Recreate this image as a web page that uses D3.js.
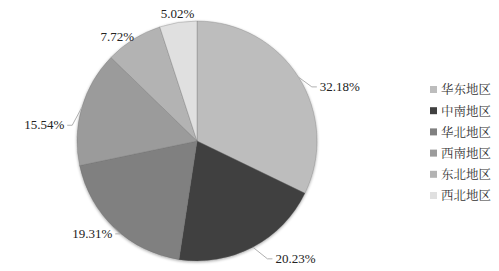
<!DOCTYPE html>
<html>
<head>
<meta charset="utf-8">
<script src="https://cdn.jsdelivr.net/npm/d3@7"></script>
<style>
  body { margin: 0; background: #fff; }
  svg { display: block; }
</style>
</head>
<body>
<svg width="499" height="271"></svg>
<script>
// 地区及占比
const regions = ["华东地区", "中南地区", "华北地区", "西南地区", "东北地区", "西北地区"];
const shares = [32.18, 20.23, 19.31, 15.54, 7.72, 5.02];
const colors = ["#bdbdbd", "#404040", "#808080", "#9b9b9b", "#b3b3b3", "#e0e0e0"];
// 标签微调 (dx, dy)
const labelNudge = [[4, 16], [10, 1], [13, -3], [1, 21], [14, 8], [25, 3]];

const width = 499, height = 271;
const cx = 197, cy = 141, r = 120;

const svg = d3.select("svg");

const defs = svg.append("defs");
const f = defs.append("filter").attr("id", "shadow")
  .attr("x", "-10%").attr("y", "-10%").attr("width", "120%").attr("height", "120%");
f.append("feGaussianBlur").attr("in", "SourceAlpha").attr("stdDeviation", 1.5);
f.append("feOffset").attr("dx", 0).attr("dy", 1).attr("result", "b");
f.append("feComponentTransfer").append("feFuncA").attr("type", "linear").attr("slope", 0.35);
const m = f.append("feMerge");
m.append("feMergeNode");
m.append("feMergeNode").attr("in", "SourceGraphic");

const pie = d3.pie().sort(null).value(d => d)(shares);
const arc = d3.arc().innerRadius(0).outerRadius(r);
const edge = d3.arc().innerRadius(r).outerRadius(r);
const outer = d3.arc().innerRadius(r + 12).outerRadius(r + 12);

const isRight = d => (d.startAngle + d.endAngle) / 2 < Math.PI;
const labelPos = (d, i) => {
  const b = outer.centroid(d);
  return [b[0] + (isRight(d) ? 7 : -7) + labelNudge[i][0], b[1] + 4 + labelNudge[i][1]];
};

const g = svg.append("g").attr("transform", `translate(${cx},${cy})`);

g.append("g").attr("filter", "url(#shadow)")
  .selectAll("path")
  .data(pie)
  .join("path")
  .attr("d", arc)
  .attr("fill", (d, i) => colors[i])
  .attr("stroke", "#6a6a6a")
  .attr("stroke-width", 0.3);

// 引导线（小扇区不画）
g.selectAll("polyline.lead")
  .data(pie.filter(d => d.data > 10))
  .join("polyline")
  .attr("class", "lead")
  .attr("fill", "none")
  .attr("stroke", "#b0b0b0")
  .attr("stroke-width", 1)
  .attr("points", d => {
    const i = d.index;
    const a = edge.centroid(d);
    const p = labelPos(d, i);
    const c = [p[0] + (isRight(d) ? -3 : 3), p[1] - 4];
    const b = [c[0] + (isRight(d) ? -5 : 5), c[1]];
    return [a, b, c].map(q => q.join(",")).join(" ");
  });

g.selectAll("text.lab")
  .data(pie)
  .join("text")
  .attr("class", "lab")
  .attr("x", (d, i) => labelPos(d, i)[0])
  .attr("y", (d, i) => labelPos(d, i)[1])
  .attr("text-anchor", d => isRight(d) ? "start" : "end")
  .attr("font-family", "'Liberation Serif', 'Times New Roman', serif")
  .attr("font-size", 13)
  .attr("fill", "#222")
  .text(d => d.data.toFixed(2) + "%");

// 图例
const legend = svg.append("g").attr("transform", "translate(430,90)");
const row = legend.selectAll("g")
  .data(regions)
  .join("g")
  .attr("transform", (d, i) => `translate(0,${i * 21.2})`);
row.append("rect")
  .attr("x", 0).attr("y", -4)
  .attr("width", 7).attr("height", 7)
  .attr("fill", (d, i) => colors[i]);
row.append("text")
  .attr("x", 11).attr("y", 0)
  .attr("dy", "0.35em")
  .attr("font-family", "'Noto Serif CJK SC', 'Noto Sans CJK SC', serif")
  .attr("font-size", 12.5)
  .attr("fill", "#333")
  .text(d => d);
</script>
</body>
</html>
